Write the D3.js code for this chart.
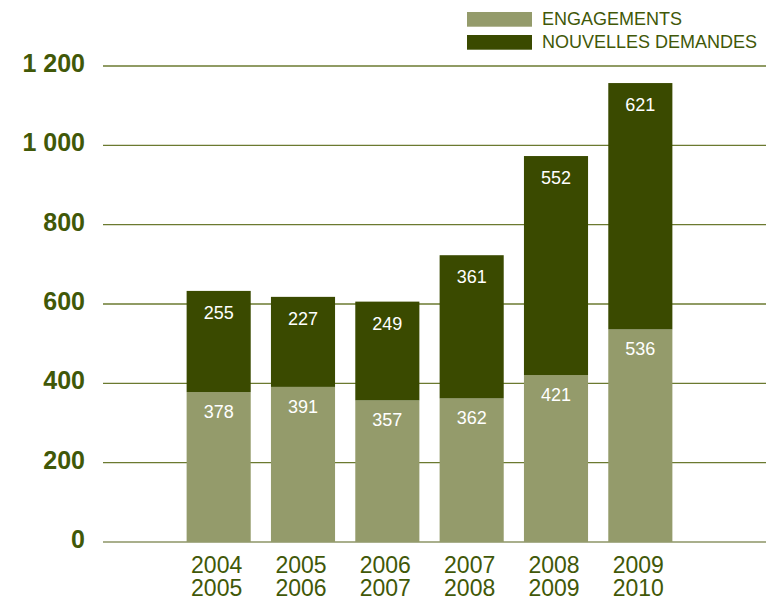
<!DOCTYPE html>
<html>
<head>
<meta charset="utf-8">
<script src="https://cdn.jsdelivr.net/npm/d3@7"></script>
<style>
  body { margin: 0; background: #fff; }
  text { font-family: "Liberation Sans", Arial, Helvetica, sans-serif; }
</style>
</head>
<body>
<div id="chart"></div>
<script>
// periods (two-line labels)
const periods = ["2004 2005", "2005 2006", "2006 2007", "2007 2008", "2008 2009", "2009 2010"];
const engagements = [378, 391, 357, 362, 421, 536];
const nouvellesDemandes = [255, 227, 249, 361, 552, 621];
const yTicks = [0, 200, 400, 600, 800, 1000, 1200];
const seriesNames = ["ENGAGEMENTS", "NOUVELLES DEMANDES"];

const lightColor = "#949b6b";
const darkColor = "#3a4a00";
const textColor = "#415808";

const width = 769;
const height = 600;

const svg = d3.select("#chart")
  .append("svg")
  .attr("width", width)
  .attr("height", height);

const x = d3.scaleBand()
  .domain(periods)
  .range([176.5, 682.5])
  .paddingInner(0.24)
  .paddingOuter(0.12);

const y = d3.scaleLinear()
  .domain([0, 1200])
  .range([542, 66]);

// gridlines
svg.append("g")
  .selectAll("line")
  .data(yTicks)
  .join("line")
  .attr("x1", 103)
  .attr("x2", 766)
  .attr("y1", (d) => y(d))
  .attr("y2", (d) => y(d))
  .attr("stroke", (d) => d === 0 ? "#8c9566" : "#6b7a30")
  .attr("stroke-width", 1.3);

// y labels
svg.append("g")
  .selectAll("text")
  .data(yTicks)
  .join("text")
  .attr("x", 85)
  .attr("y", (d) => y(d) + 6)
  .attr("text-anchor", "end")
  .attr("font-size", 25)
  .attr("font-weight", "bold")
  .attr("fill", textColor)
  .text((d) => d >= 1000 ? d3.format(",")(d).replace(",", " ") : d);

const rows = periods.map((p, i) => ({
  period: p,
  eng: engagements[i],
  nouv: nouvellesDemandes[i],
}));

// bars: engagements (bottom)
svg.append("g")
  .selectAll("rect")
  .data(rows)
  .join("rect")
  .attr("x", (d) => x(d.period))
  .attr("width", x.bandwidth())
  .attr("y", (d) => y(d.eng))
  .attr("height", (d) => y(0) - y(d.eng))
  .attr("fill", lightColor);

// bars: nouvelles demandes (top)
svg.append("g")
  .selectAll("rect")
  .data(rows)
  .join("rect")
  .attr("x", (d) => x(d.period))
  .attr("width", x.bandwidth())
  .attr("y", (d) => y(d.eng + d.nouv))
  .attr("height", (d) => y(d.eng) - y(d.eng + d.nouv))
  .attr("fill", darkColor);

// value labels
const labels = svg.append("g")
  .attr("text-anchor", "middle")
  .attr("font-size", 18)
  .attr("fill", "#fff");

labels.selectAll("text.eng")
  .data(rows)
  .join("text")
  .attr("class", "eng")
  .attr("x", (d) => x(d.period) + x.bandwidth() / 2)
  .attr("y", (d) => y(d.eng) + 26)
  .text((d) => d.eng);

labels.selectAll("text.nouv")
  .data(rows)
  .join("text")
  .attr("class", "nouv")
  .attr("x", (d) => x(d.period) + x.bandwidth() / 2)
  .attr("y", (d) => y(d.eng + d.nouv) + 28)
  .text((d) => d.nouv);

// x axis labels (two lines, as separate texts)
const xg = svg.append("g")
  .attr("text-anchor", "middle")
  .attr("font-size", 23)
  .attr("fill", textColor);

[0, 1].forEach((line) => {
  xg.selectAll("text.l" + line)
    .data(periods)
    .join("text")
    .attr("class", "l" + line)
    .attr("x", (d) => x(d) + x.bandwidth() / 2 - 2)
    .attr("y", 573 + line * 22.5)
    .text((d) => d.split(" ")[line]);
});

// legend
const legend = svg.append("g")
  .selectAll("g")
  .data(seriesNames)
  .join("g")
  .attr("transform", (d, i) => "translate(467," + (12 + i * 23) + ")");

legend.append("rect")
  .attr("width", 65)
  .attr("height", 14.7)
  .attr("fill", (d, i) => i === 0 ? lightColor : darkColor);

legend.append("text")
  .attr("x", 75)
  .attr("y", 13)
  .attr("font-size", 18)
  .attr("fill", textColor)
  .text((d) => d);
</script>
</body>
</html>
